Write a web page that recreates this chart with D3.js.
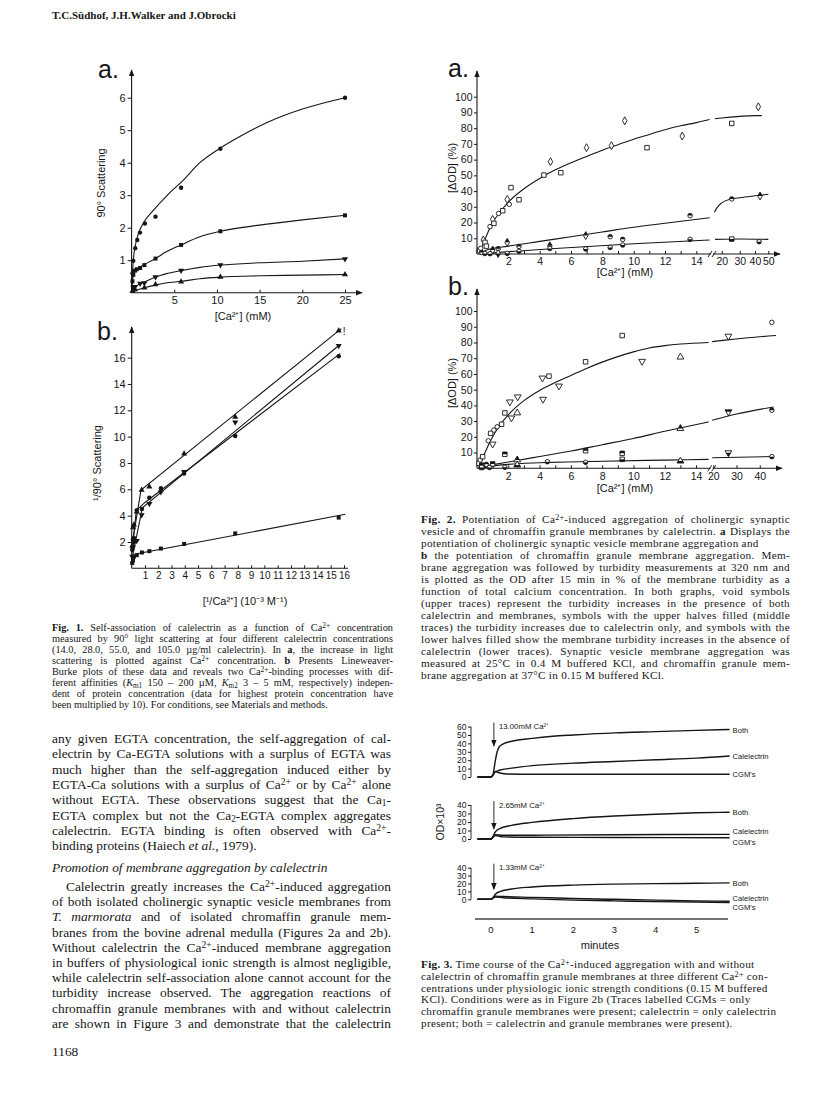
<!DOCTYPE html>
<html><head><meta charset="utf-8">
<script src="https://cdn.jsdelivr.net/npm/d3@7/dist/d3.min.js"></script>
<style>body{margin:0;background:#fff}svg{display:block}</style>
</head><body>
<svg id="page" width="816" height="1113"></svg>
<script>
// ================= DATA =================
// ---- Fig 1a: 90° scattering vs [Ca2+] (mM) ----
const f1aXTicks=[5,10,15,20,25];
const f1aYTicks=[1,2,3,4,5,6];
const f1aCircle=[[0.1,0.6],[0.2,0.98],[0.43,1.37],[0.66,1.62],[0.98,1.85],[1.56,2.13],[2.8,2.34],[5.8,3.23],[10.4,4.43],[25,6.0]];
const f1aSquare=[[0.1,0.35],[0.2,0.55],[0.4,0.68],[0.6,0.72],[1.0,0.76],[1.5,0.85],[2.8,1.05],[5.8,1.47],[10.4,1.89],[25,2.38]];
const f1aTriDown=[[0.2,0.15],[0.4,0.18],[1.0,0.28],[1.5,0.3],[2.8,0.48],[5.8,0.68],[10.4,0.85],[25,1.04]];
const f1aTriUp=[[0.1,0.05],[0.4,0.1],[1.5,0.15],[2.8,0.25],[5.8,0.34],[10.4,0.48],[25,0.56]];
const f1aFitCircle=[[0,0],[0.1,0.6],[0.2,1.0],[0.4,1.4],[0.6,1.65],[1,1.95],[1.5,2.2],[2.6,2.55],[4,2.95],[6,3.45],[8,4.0],[10.4,4.45],[13,4.85],[16,5.25],[20,5.65],[25,6.0]];
const f1aFitSquare=[[0,0],[0.1,0.35],[0.2,0.52],[0.4,0.66],[0.7,0.75],[1,0.8],[1.5,0.87],[2.8,1.05],[4,1.25],[5.8,1.47],[8,1.72],[10.4,1.89],[15,2.08],[20,2.24],[25,2.38]];
const f1aFitTriDown=[[0,0],[0.2,0.12],[0.5,0.2],[1,0.27],[1.5,0.33],[2.8,0.48],[4,0.58],[5.8,0.68],[8,0.78],[10.4,0.85],[15,0.92],[20,0.97],[25,1.04]];
const f1aFitTriUp=[[0,0],[0.5,0.07],[1.5,0.15],[2.8,0.24],[4,0.3],[5.8,0.35],[8,0.43],[10.4,0.48],[15,0.52],[20,0.54],[25,0.56]];

// ---- Fig 1b: Lineweaver-Burke ----
const f1bXTicks=[1,2,3,4,5,6,7,8,9,10,11,12,13,14,15,16];
const f1bYTicks=[2,4,6,8,10,12,14,16];
const f1bTriUp=[[0.04,1.7],[0.1,3.1],[0.17,3.3],[0.38,4.3],[0.75,5.95],[1.33,6.2],[3.95,8.7],[7.8,11.5],[15.6,18.05]];
const f1bTriDown=[[0.04,0.9],[0.1,1.6],[0.17,2.0],[0.38,2.1],[0.75,4.05],[1.33,4.9],[2.2,5.8],[3.95,7.34],[7.8,11.1],[15.6,16.9]];
const f1bCircle=[[0.04,1.4],[0.1,2.2],[0.17,2.3],[0.38,4.4],[0.77,4.5],[1.33,5.35],[2.2,6.07],[3.95,7.2],[7.8,10.05],[15.6,16.1]];
const f1bSquare=[[0.04,0.4],[0.1,0.6],[0.17,0.9],[0.38,1.0],[0.77,1.2],[1.33,1.3],[2.2,1.5],[3.95,1.85],[7.8,2.65],[15.6,3.85]];
const f1bFitTriUp=[[0.03,1.8],[0.7,5.95],[15.8,18.2]];
const f1bFitTriDown=[[0.04,0.8],[0.8,4.6],[15.7,17.0]];
const f1bFitCircle=[[0.02,1.2],[0.35,4.4],[1.0,5.0],[15.7,16.3]];
const f1bFitSquare=[[0.0,0.3],[0.4,1.1],[16.1,4.1]];

// ---- Fig 2 axes ----
const f2YTicks=[10,20,30,40,50,60,70,80,90,100];
const f2aXLabels1=[2,4,6,8,10,12,14];
const f2aXLabels2=[20,30,40,50];
const f2bXLabels2=[20,30,40];

// ---- Fig 2a: synaptic vesicle membranes ([Ca] mM, ΔOD %, symbol) ----
const f2aUpper=[[0.1,1.5,'c'],[0.17,2.5,'s'],[0.24,3.6,'c'],[0.4,8.9,'d'],[0.51,7.4,'s'],[0.6,5,'s'],[0.83,17.4,'c'],[1.0,22,'d'],[1.08,19.5,'s'],[1.38,25.8,'c'],[1.64,27.5,'s'],[1.93,34.7,'d'],[2.06,31.6,'c'],[2.17,42.2,'s'],[2.68,34.5,'s'],[4.27,50.2,'s'],[4.69,58.7,'d'],[5.35,51.7,'s'],[6.99,67.6,'d'],[8.58,68.9,'d'],[9.43,84.7,'d'],[10.85,67.6,'s'],[13.1,75,'d'],[25.3,83,'s'],[42.4,93.6,'d']];
const f2aMiddle=[[0.3,1,'c'],[1.0,2.5,'d'],[1.35,3.4,'c'],[1.93,7.4,'d'],[2.68,4.8,'c'],[4.65,5.2,'d'],[6.94,11.7,'d'],[8.5,11,'c'],[9.3,9.3,'c'],[13.6,24.4,'c'],[25.3,35,'c'],[43.7,36.9,'d']];
const f2aLower=[[0.5,0.3,'c'],[0.83,0.2,'c'],[1.35,0.3,'d'],[1.93,0.4,'c'],[2.68,1.7,'c'],[4.65,3.5,'c'],[6.94,3.2,'c'],[8.5,4.2,'c'],[9.3,5.7,'c'],[13.6,9.3,'c'],[25.3,9.5,'s'],[43,7.8,'c']];
const f2aFitUpper1=[[0.1,0],[0.3,4],[0.5,9],[0.75,15],[1,20],[1.5,27],[2,33],[3,41.5],[4,48],[5,53.5],[6,58],[7,62],[8,66],[9,69.5],[10,73],[11,76],[12,79],[13,81.5],[14,83.5],[14.85,85.5]];
const f2aFitUpper2=[[16.8,86],[20,86.5],[30,87.5],[40,88],[45,88]];
const f2aFitMiddle1=[[0.3,0],[0.6,2.5],[2,5],[4,8],[6,11],[8,14],[10,17],[12,19.5],[14.85,23]];
const f2aFitMiddle2=[[16.5,26.5],[18,30],[20,32.5],[25,35],[30,35.8],[40,37],[50,38]];
const f2aFitLower1=[[0.2,0],[2,1.5],[5,3.5],[10,6.5],[14.85,8.9]];
const f2aFitLower2=[[16.8,9.3],[30,9.5],[50,9.3]];

// ---- Fig 2b: chromaffin granule membranes ----
const f2bUpper=[[0.13,3.2,'s'],[0.2,5.3,'c'],[0.36,7.4,'s'],[0.72,17.5,'c'],[0.87,22.2,'s'],[1.0,15.4,'v'],[1.08,24.3,'c'],[1.29,26.4,'c'],[1.57,28,'s'],[1.78,35.2,'s'],[2.1,42.2,'v'],[2.2,32,'v'],[2.57,35.2,'t'],[2.6,45.4,'v'],[4.18,57.4,'v'],[4.22,43.9,'v'],[4.6,58.6,'s'],[5.24,52.3,'v'],[6.94,67.7,'s'],[9.28,84.4,'s'],[10.55,68,'v'],[13,70.7,'t'],[26.5,84,'v'],[45.2,92.8,'c']];
const f2bMiddle=[[0.3,2,'s'],[0.6,2.5,'c'],[1.0,2.8,'s'],[1.78,8.9,'s'],[2.57,5.3,'t'],[6.94,11.2,'s'],[9.28,9.5,'s'],[13,25.3,'t'],[26.5,35.9,'v'],[45.2,36.9,'c']];
const f2bLower=[[0.3,0.5,'s'],[0.8,0.5,'c'],[1.78,0.6,'c'],[2.57,2.1,'t'],[4.5,4.2,'c'],[6.94,3.8,'c'],[9.28,5.7,'s'],[13,4.6,'t'],[26.5,9.9,'v'],[45.2,7.4,'c']];
const f2bFitUpper1=[[0.1,0],[0.3,5],[0.6,12],[1,20],[1.5,28],[2,34],[3,43],[4,49.5],[5,54.5],[6,59],[7,63.5],[8,67.5],[9,71],[10,74],[11,76.5],[12,78],[13,79],[14.8,80]];
const f2bFitUpper2=[[19.5,80.5],[25,81.5],[35,83],[47,84.4]];
const f2bFitMiddle1=[[0.3,1],[2,4],[4,7.5],[6,11],[8,15],[10,19],[12,23.5],[14.8,29.5]];
const f2bFitMiddle2=[[19.5,30.6],[30,34.5],[46,39]];
const f2bFitLower1=[[0.3,0],[1,1.5],[2,2.5],[4,3.5],[8,4.5],[12,5.2],[14.8,5.7]];
const f2bFitLower2=[[19.5,6.7],[46,7.5]];

// ---- Fig 3: time courses (minutes, OD x 10^3) ----
const f3TimeTicks=[0,1,2,3,4,5];
const f3Conc=['13.00mM Ca²⁺','2.65mM Ca²⁺','1.33mM Ca²⁺'];
const f3YTicks=[[0,10,20,30,40,50,60],[0,10,20,30,40],[0,10,20,30,40]];
const f3TraceNames=['Both','Calelectrin',"CGM's"];
const f3Both=[
 [[-0.33,0],[0,0],[0.05,3],[0.1,18],[0.15,30],[0.2,36],[0.3,39.5],[0.5,42.5],[1,46],[1.5,48.5],[2,50],[3,52.5],[4,54],[5,55.5],[5.8,56.5]],
 [[-0.33,0],[0,0],[0.05,3],[0.1,8],[0.2,12],[0.5,16],[1,19.5],[2,24],[3,27],[4,29.2],[5,30.8],[5.8,31.5]],
 [[-0.33,0],[0,0],[0.05,2],[0.1,6],[0.2,9.5],[0.5,13],[1,15.5],[2,18],[3,19.2],[4,19.8],[5,20.3],[5.8,20.8]]];
const f3Cal=[
 [[-0.33,0],[0,0],[0.05,2],[0.1,6],[0.2,8],[0.5,10.5],[1,13.5],[2,16.5],[3,18.5],[4,20.5],[5,22.5],[5.8,25]],
 [[-0.33,0],[0,0],[0.05,2],[0.1,5],[0.3,4.5],[1,4.5],[3,5],[5.8,5.5]],
 [[-0.33,0],[0,0],[0.05,2],[0.1,4],[0.3,3.5],[1,2.5],[2,1],[3,0],[4,-1],[5,-2],[5.8,-2.5]]];
const f3CGM=[
 [[-0.33,0],[0,0],[0.05,3],[0.1,6.5],[0.2,5],[0.4,3.5],[1,3.2],[3,3.2],[5.8,3.2]],
 [[-0.33,0],[0,0],[0.05,2],[0.1,4],[0.3,2.5],[1,2],[3,1.8],[5.8,1.5]],
 [[-0.33,0],[0,0],[0.05,1.5],[0.1,3],[0.3,2],[1,0.5],[2,-1],[3,-2],[4,-3],[5,-3.5],[5.8,-4]]];

// ---- Text ----
const headerText='T.C.Südhof, J.H.Walker and J.Obrocki';
const fig1Caption=[
'**Fig. 1.** Self-association of calelectrin as a function of Ca^{2+} concentration',
'measured by 90° light scattering at four different calelectrin concentrations',
'(14.0, 28.0, 55.0, and 105.0 µg/ml calelectrin). In **a**, the increase in light',
'scattering is plotted against Ca^{2+} concentration. **b** Presents Lineweaver-',
'Burke plots of these data and reveals two Ca^{2+}-binding processes with dif-',
'ferent affinities (*K*_{m1} 150 – 200 µM, *K*_{m2} 3 – 5 mM, respectively) indepen-',
'dent of protein concentration (data for highest protein concentration have',
'been multiplied by 10). For conditions, see Materials and methods.'];
const bodyPara1=[
'any given EGTA concentration, the self-aggregation of cal-',
'electrin by Ca-EGTA solutions with a surplus of EGTA was',
'much higher than the self-aggregation induced either by',
'EGTA-Ca solutions with a surplus of Ca^{2+} or by Ca^{2+} alone',
'without EGTA. These observations suggest that the Ca_{1}-',
'EGTA complex but not the Ca_{2}-EGTA complex aggregates',
'calelectrin. EGTA binding is often observed with Ca^{2+}-',
'binding proteins (Haiech *et al.*, 1979).'];
const bodyHeading='Promotion of membrane aggregation by calelectrin';
const bodyPara2=[
'Calelectrin greatly increases the Ca^{2+}-induced aggregation',
'of both isolated cholinergic synaptic vesicle membranes from',
'*T. marmorata* and of isolated chromaffin granule mem-',
'branes from the bovine adrenal medulla (Figures 2a and 2b).',
'Without calelectrin the Ca^{2+}-induced membrane aggregation',
'in buffers of physiological ionic strength is almost negligible,',
'while calelectrin self-association alone cannot account for the',
'turbidity increase observed. The aggregation reactions of',
'chromaffin granule membranes with and without calelectrin',
'are shown in Figure 3 and demonstrate that the calelectrin'];
const pageNumber='1168';
const fig2Caption=[
'**Fig. 2.** Potentiation of Ca^{2+}-induced aggregation of cholinergic synaptic',
'vesicle and of chromaffin granule membranes by calelectrin. **a** Displays the',
'potentiation of cholinergic synaptic vesicle membrane aggregation and',
'**b** the potentiation of chromaffin granule membrane aggregation. Mem-',
'brane aggregation was followed by turbidity measurements at 320 nm and',
'is plotted as the OD after 15 min in % of the membrane turbidity as a',
'function of total calcium concentration. In both graphs, void symbols',
'(upper traces) represent the turbidity increases in the presence of both',
'calelectrin and membranes, symbols with the upper halves filled (middle',
'traces) the turbidity increases due to calelectrin only, and symbols with the',
'lower halves filled show the membrane turbidity increases in the absence of',
'calelectrin (lower traces). Synaptic vesicle membrane aggregation was',
'measured at 25°C in 0.4 M buffered KCl, and chromaffin granule mem-',
'brane aggregation at 37°C in 0.15 M buffered KCl.'];
const fig3Caption=[
'**Fig. 3.** Time course of the Ca^{2+}-induced aggregation with and without',
'calelectrin of chromaffin granule membranes at three different Ca^{2+} con-',
'centrations under physiologic ionic strength conditions (0.15 M buffered',
'KCl). Conditions were as in Figure 2b (Traces labelled CGMs = only',
'chromaffin granule membranes were present; calelectrin = only calelectrin',
'present; both = calelectrin and granule membranes were present).'];

// ================= DRAWING =================
const INK='#161616';
const SANS="'Liberation Sans', Arial, sans-serif";
const NARROW="'Liberation Sans Narrow', 'Liberation Sans', Arial, sans-serif";
const SERIF="'Liberation Serif', 'Times New Roman', serif";
const svg=d3.select('#page');
svg.append('rect').attr('width',816).attr('height',1113).attr('fill','#fff');
const defs=svg.append('defs');
defs.append('marker').attr('id','arr').attr('viewBox','0 0 10 10').attr('refX',9).attr('refY',5)
  .attr('markerWidth',7).attr('markerHeight',7).attr('markerUnits','userSpaceOnUse').attr('orient','auto')
  .append('path').attr('d','M0,1 L10,5 L0,9 z').attr('fill',INK);
defs.append('clipPath').attr('id','clip-top').append('rect').attr('x',-8).attr('y',-8).attr('width',16).attr('height',8);
defs.append('clipPath').attr('id','clip-bottom').append('rect').attr('x',-8).attr('y',0).attr('width',16).attr('height',8);

const triDown={draw(ctx,size){const y=-Math.sqrt(size/(Math.sqrt(3)*3));ctx.moveTo(0,-y*2);ctx.lineTo(Math.sqrt(3)*y,y);ctx.lineTo(-Math.sqrt(3)*y,y);ctx.closePath();}};
const symType={c:d3.symbolCircle,s:d3.symbolSquare,d:d3.symbolDiamond,t:d3.symbolTriangle,v:triDown};
function marker(g,x,y,code,mode,size){
  const p=d3.symbol().type(symType[code]).size(size)();
  const m=g.append('g').attr('transform',`translate(${x},${y})`);
  if(mode==='full'){m.append('path').attr('d',p).attr('fill',INK);return;}
  m.append('path').attr('d',p).attr('fill','#fff');
  if(mode==='top'||mode==='bottom') m.append('path').attr('d',p).attr('fill',INK).attr('clip-path',`url(#clip-${mode})`);
  m.append('path').attr('d',p).attr('fill','none').attr('stroke',INK).attr('stroke-width',0.9);
}
function txt(g,x,y,s,size,anchor,fam){
  return g.append('text').attr('x',x).attr('y',y).attr('font-family',fam||SANS).attr('font-size',size).attr('fill',INK).attr('text-anchor',anchor||'start').text(s);
}
function axisLine(g,x1,y1,x2,y2,arrow){
  const l=g.append('line').attr('x1',x1).attr('y1',y1).attr('x2',x2).attr('y2',y2).attr('stroke',INK).attr('stroke-width',1.1);
  if(arrow) l.attr('marker-end','url(#arr)');
}
function styleAxis(sel,size,fam){
  sel.select('.domain').remove();
  sel.selectAll('line').attr('stroke',INK).attr('stroke-width',1);
  sel.selectAll('text').attr('font-family',fam||SANS).attr('font-size',size).attr('fill',INK);
}
function curve(g,data,fx,fy,w){
  g.append('path').datum(data).attr('fill','none').attr('stroke',INK).attr('stroke-width',w||1.1)
   .attr('d',d3.line().x(d=>fx(d[0])).y(d=>fy(d[1])).curve(d3.curveMonotoneX));
}
function rotLabel(g,cx,cy,s,size){
  return g.append('text').attr('transform',`translate(${cx},${cy}) rotate(-90)`).attr('text-anchor','middle')
    .attr('dominant-baseline','middle').attr('font-family',SANS).attr('font-size',size).attr('fill',INK).text(s);
}

// ---------- Header ----------
svg.append('text').attr('x',52).attr('y',19).attr('font-family',SERIF).attr('font-weight','bold').attr('font-size',11).attr('fill',INK).text(headerText);

// ---------- Fig 1a ----------
{
 const g=svg.append('g');
 const x=d3.scaleLinear().domain([0,25]).range([131.6,345]);
 const y=d3.scaleLinear().domain([0,6]).range([292.7,97.7]);
 txt(g,98,78,'a.',25);
 axisLine(g,x(0),y(0),x(0),70,true);
 axisLine(g,x(0),y(0),362,y(0),true);
 g.append('g').attr('transform',`translate(${x(0)},0)`).call(d3.axisLeft(y).tickValues(f1aYTicks).tickSize(4).tickPadding(2).tickFormat(d3.format('d'))).call(styleAxis,11);
 g.append('g').attr('transform',`translate(0,${y(0)})`).call(d3.axisBottom(x).tickValues(f1aXTicks).tickSize(-3).tickPadding(4)).call(styleAxis,11);
 rotLabel(g,102,183,'90° Scattering',11);
 txt(g,243,320,'[Ca²⁺]  (mM)',11,'middle');
 [[f1aFitCircle,f1aCircle,'c'],[f1aFitSquare,f1aSquare,'s'],[f1aFitTriDown,f1aTriDown,'v'],[f1aFitTriUp,f1aTriUp,'t']].forEach(([fit,pts,code])=>{
   curve(g,fit,x,y,1.1);
   pts.forEach(p=>marker(g,x(p[0]),y(p[1]),code,'full',code==='c'?15:16));
 });
}
// ---------- Fig 1b ----------
{
 const g=svg.append('g');
 const x=d3.scaleLinear().domain([0,16]).range([131.7,344]);
 const y=d3.scaleLinear().domain([0,18]).range([568.3,331.3]);
 txt(g,97,340,'b.',25);
 axisLine(g,x(0),y(0),x(0),327,true);
 axisLine(g,x(0),y(0),348,y(0),false);
 g.append('g').attr('transform',`translate(${x(0)},0)`).call(d3.axisLeft(y).tickValues(f1bYTicks).tickSize(4).tickPadding(2)).call(styleAxis,11);
 g.append('g').attr('transform',`translate(0,${y(0)})`).call(d3.axisBottom(x).tickValues(f1bXTicks).tickSize(-3).tickPadding(4)).call(styleAxis,10,NARROW);
 rotLabel(g,98,463,'¹/90° Scattering',11);
 txt(g,245,605,'[¹/Ca²⁺] (10⁻³ M⁻¹)',11,'middle');
 [[f1bFitTriUp,f1bTriUp,'t'],[f1bFitTriDown,f1bTriDown,'v'],[f1bFitCircle,f1bCircle,'c'],[f1bFitSquare,f1bSquare,'s']].forEach(([fit,pts,code])=>{
   g.append('path').datum(fit).attr('fill','none').attr('stroke',INK).attr('stroke-width',1.1)
     .attr('d',d3.line().x(d=>x(d[0])).y(d=>y(d[1])));
   pts.forEach(p=>marker(g,x(p[0]),y(p[1]),code,'full',16));
 });
 txt(g,x(15.9),y(17.7),'!',10,'start');
}

// ---------- Fig 2 helper ----------
function fig2(opts){
 const g=svg.append('g');
 const xl=d3.scaleLinear().domain([0,15]).range([477,opts.brk]);
 const x2=opts.seg2;
 const fx=v=>v<=15?xl(v):x2(v);
 const y=d3.scaleLinear().domain([0,100]).range([opts.y0,opts.y0-157.3]);
 txt(g,448,opts.letterY,opts.letter,25);
 axisLine(g,477,opts.y0,477,opts.yTop,true);
 axisLine(g,477,opts.y0,opts.xEnd,opts.y0,true);
 g.append('g').attr('transform','translate(477,0)').call(d3.axisLeft(y).tickValues(f2YTicks).tickSize(3).tickPadding(1.5)).call(styleAxis,10.5);
 const minor=d3.range(1,15);
 g.append('g').attr('transform',`translate(0,${opts.y0})`).call(d3.axisBottom(xl).tickValues(minor).tickSize(-3).tickPadding(4).tickFormat(d=>f2aXLabels1.includes(d)?d:'')).call(styleAxis,10.5);
 g.append('g').attr('transform',`translate(0,${opts.y0})`).call(d3.axisBottom(x2).tickValues(opts.labels2).tickSize(-3).tickPadding(4)).call(styleAxis,10.5);
 [-2,2].forEach(o=>g.append('line').attr('x1',opts.brk+o-2).attr('y1',opts.y0+3).attr('x2',opts.brk+o+2).attr('y2',opts.y0-3).attr('stroke',INK).attr('stroke-width',1));
 g.append('rect').attr('x',opts.brk-1).attr('y',opts.y0-1).attr('width',2).attr('height',2).attr('fill','#fff');
 rotLabel(g,453,opts.yLabelY,'[ΔOD]  (%)',11);
 txt(g,625,opts.xLabelY,'[Ca²⁺] (mM)',11,'middle');
 opts.fits.forEach(f=>curve(g,f,fx,y,1.1));
 [[opts.upper,'none'],[opts.middle,'top'],[opts.lower,'bottom']].forEach(([pts,mode])=>{
   pts.forEach(p=>marker(g,fx(p[0]),y(p[1]),p[2],mode,p[2]==='d'?18:(p[2]==='c'?16:20)));
 });
}
fig2({letter:'a.',letterY:77,y0:254,yTop:71,xEnd:780,brk:712,
 seg2:d3.scaleSqrt().domain([15,50]).range([711,768.3]),labels2:f2aXLabels2,
 yLabelY:168,xLabelY:276,
 fits:[f2aFitUpper1,f2aFitUpper2,f2aFitMiddle1,f2aFitMiddle2,f2aFitLower1,f2aFitLower2],
 upper:f2aUpper,middle:f2aMiddle,lower:f2aLower});
fig2({letter:'b.',letterY:295,y0:468.3,yTop:289,xEnd:782,brk:711.7,
 seg2:d3.scaleLinear().domain([19.3,47]).range([711.7,776]),labels2:f2bXLabels2,
 yLabelY:383,xLabelY:492,
 fits:[f2bFitUpper1,f2bFitUpper2,f2bFitMiddle1,f2bFitMiddle2,f2bFitLower1,f2bFitLower2],
 upper:f2bUpper,middle:f2bMiddle,lower:f2bLower});

// ---------- Fig 3 ----------
{
 const g=svg.append('g');
 const tx=d3.scaleLinear().domain([0,5]).range([491,696.7]);
 const panels=[{y0:777,y1:726.6,max:60,lab:[0,0,0]},{y0:839,y1:805,max:40,lab:[0,-3,4]},{y0:899.3,y1:867.7,max:40,lab:[0,-3,5]}];
 const AX=471;
 panels.forEach((P,i)=>{
   const y=d3.scaleLinear().domain([0,P.max]).range([P.y0,P.y1]);
   g.append('line').attr('x1',AX).attr('x2',AX).attr('y1',y(0)).attr('y2',y(P.max)).attr('stroke',INK).attr('stroke-width',0.9);
   g.append('g').attr('transform',`translate(${AX},0)`).call(d3.axisLeft(y).tickValues(f3YTicks[i]).tickSize(3).tickPadding(1.5)).call(styleAxis,8.5);
   [f3Both[i],f3Cal[i],f3CGM[i]].forEach((tr,k)=>{
     curve(g,tr,tx,y,1.4);
     const last=tr[tr.length-1];
     txt(g,tx(last[0])+3,y(last[1])+3+P.lab[k],f3TraceNames[k],7.6,'start');
   });
   g.append('line').attr('x1',tx(0.07)).attr('x2',tx(0.07)).attr('y1',P.y1-4).attr('y2',P.y0-(i===0?31:10)).attr('stroke',INK).attr('stroke-width',0.9).attr('marker-end','url(#arr)');
   txt(g,tx(0.07)+5,P.y1+2.5,f3Conc[i],7.8,'start');
 });
 g.append('line').attr('x1',475).attr('x2',728).attr('y1',919).attr('y2',919).attr('stroke','#444').attr('stroke-width',1.6);
 f3TimeTicks.forEach(t=>txt(g,tx(t),933,String(t),9.5,'middle'));
 txt(g,600,949,'minutes',11,'middle');
 rotLabel(g,441,822,'OD×10³',10.5);
}

// ---------- Text blocks ----------
function parseSegs(s){
  const re=/\*\*(.+?)\*\*|\*(.+?)\*|_\{(.+?)\}|\^\{(.+?)\}/g;let segs=[],last=0,m;
  while((m=re.exec(s))){if(m.index>last)segs.push({t:s.slice(last,m.index)});
    if(m[1])segs.push({t:m[1],b:1});else if(m[2])segs.push({t:m[2],i:1});else if(m[3])segs.push({t:m[3],sub:1});else segs.push({t:m[4],sup:1});
    last=re.lastIndex;}
  if(last<s.length)segs.push({t:s.slice(last)});
  return segs;
}
function textBlock(lines,o){
  lines.forEach((s,k)=>{
    const indent=(o.indent&&k===0)?o.indent:0;
    const t=svg.append('text').attr('x',o.x+indent).attr('y',o.y0+k*o.dy).attr('font-family',SERIF)
      .attr('font-size',o.size).attr('fill',INK).style('white-space','pre');
    if(o.ls) t.style('letter-spacing',o.ls+'px');
    if(o.italic) t.attr('font-style','italic');
    parseSegs(s).forEach(sg=>{const ts=t.append('tspan').text(sg.t);
      if(sg.b)ts.attr('font-weight','bold');if(sg.i)ts.attr('font-style','italic');
      if(sg.sub)ts.attr('font-size',o.size*0.7).attr('baseline-shift','-22%');
      if(sg.sup)ts.attr('font-size',o.size*0.72).attr('baseline-shift','38%');});
    const ragged=o.ragged==='all'||(o.ragged||[]).includes(k);
    if(!ragged){
      const w=t.node().getComputedTextLength();const n=(s.match(/ /g)||[]).length;
      if(n>0)t.style('word-spacing',((o.width-indent-w)/n)+'px');
    }
  });
}
textBlock(fig1Caption,{x:52,y0:631,dy:11,size:10.3,width:341,ragged:[7]});
textBlock(bodyPara1,{x:52,y0:743,dy:15.3,size:13.4,width:339,ragged:[7]});
textBlock([bodyHeading],{x:52,y0:872,dy:15,size:13.4,width:339,ragged:'all',italic:true});
textBlock(bodyPara2,{x:52,y0:891,dy:15.2,size:13.4,width:339,indent:14});
svg.append('text').attr('x',52).attr('y',1056).attr('font-family',SERIF).attr('font-size',13.4).attr('fill',INK).text(pageNumber);
textBlock(fig2Caption,{x:421,y0:523,dy:12,size:11.2,width:369,ragged:[2,13],ls:0.3});
textBlock(fig3Caption,{x:421,y0:968,dy:11.8,size:11.2,width:368,ragged:'all',ls:0.3});
</script>
</body></html>
